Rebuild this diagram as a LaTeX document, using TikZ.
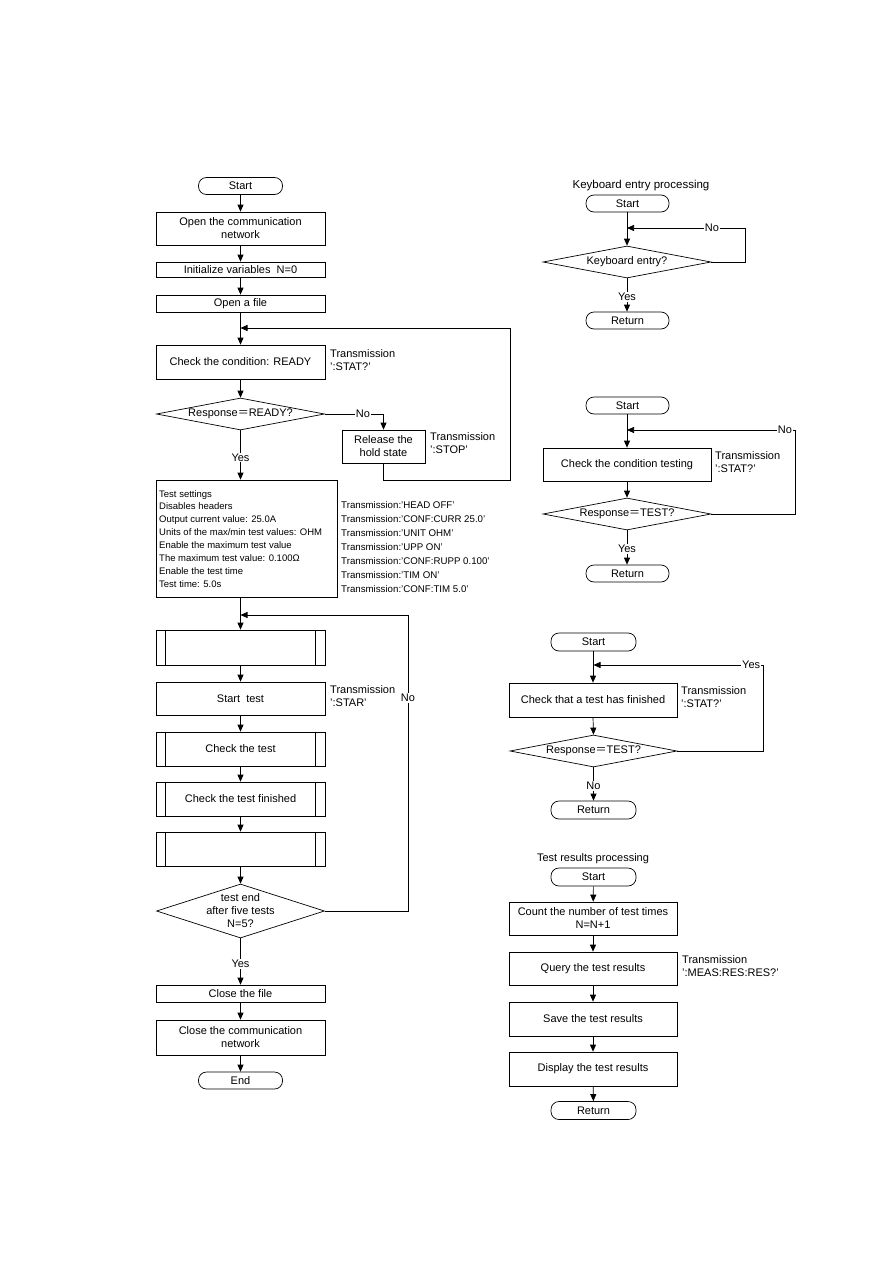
\documentclass[tikz,border=0pt]{standalone}
\usepackage{fontspec}
\setmainfont{Liberation Sans}
\newfontfamily\cjk{Noto Sans CJK JP}
\usetikzlibrary{arrows.meta,shapes.geometric}
\newcommand\fmain{\fontsize{11}{13}\selectfont}
\newcommand\fsmall{\fontsize{9.5}{12.9}\selectfont}
\newcommand\ftx{\fontsize{9.7}{14}\selectfont}
\newcommand\feq{{\cjk ＝}}
\tikzset{
 base/.style={draw, line width=0.7pt, font=\fmain, inner sep=1pt, align=center},
 proc/.style={base, minimum width=169, minimum height=34},
 term/.style={base, rounded corners=8pt, minimum width=84, minimum height=17},
 dia/.style={draw, line width=0.7pt, shape=diamond, inner sep=0pt, minimum width=168, minimum height=32},
 arr/.style={-{Triangle[length=7pt,width=6pt]}, line width=0.7pt},
 ln/.style={line width=0.7pt},
 note/.style={font=\fmain, align=left, anchor=north west, inner sep=0pt},
 lab/.style={font=\fmain, fill=white, inner sep=1pt},
}
\begin{document}
\begin{tikzpicture}[x=1pt,y=-1pt]
\useasboundingbox (0,0) rectangle (893,1263);
% ---------------- left column ----------------
\node[term] (start) at (240.5,186) {Start};
\node[proc, minimum height=33] (open) at (240.5,228.5) {Open the communication\\network};
\node[proc, minimum height=15] (init) at (240.5,269.5) {Initialize variables\ \ N=0};
\node[proc, minimum height=17] (file) at (240.5,303.5) {Open a file};
\node[proc] (chk) at (240.5,362) {Check the condition: READY};
\node[note] (chkn) at (330,349) {Transmission\\':STAT?'};
\node[dia] (d1) at (240.5,414) {};
\node[font=\fmain] (d1t) at (d1) {Response\feq READY?};
\node[proc, minimum width=83, minimum height=33] (rel) at (383.5,446.5) {Release the\\hold state};
\node[note] (reln) at (430,432) {Transmission\\':STOP'};
\node[draw, line width=0.7pt, minimum width=181, minimum height=117, inner sep=0pt] (set) at (246.5,538.5) {};
\node[font=\fsmall, align=left, anchor=north west, inner sep=0pt] (sett) at (159,490) {Test settings\\Disables headers\\Output current value: 25.0A\\Units of the max/min test values: OHM\\Enable the maximum test value\\The maximum test value: 0.100Ω\\Enable the test time\\Test time: 5.0s};
\node[font=\ftx, align=left, anchor=north west, inner sep=0pt] (setn) at (341,501) {Transmission:'HEAD OFF'\\Transmission:'CONF:CURR 25.0'\\Transmission:'UNIT OHM'\\Transmission:'UPP ON'\\Transmission:'CONF:RUPP 0.100'\\Transmission:'TIM ON'\\Transmission:'CONF:TIM 5.0'};
\node[proc, minimum height=35] (p1) at (240.5,647.5) {};
\node[proc, minimum height=33] (stt) at (240.5,698.5) {Start\ \ test};
\node[note] (sttn) at (330,685) {Transmission\\':STAR'};
\node[proc] (p2) at (240.5,749) {Check the test};
\node[proc] (p3) at (240.5,799) {Check the test finished};
\node[proc] (p4) at (240.5,849) {};
\foreach \p in {p1,p2,p3,p4}{
 \draw[ln] ([xshift=10pt]\p.north west) -- ([xshift=10pt]\p.south west);
 \draw[ln] ([xshift=-10pt]\p.north east) -- ([xshift=-10pt]\p.south east);
}
\node[dia, minimum height=54] (d2) at (240.5,911) {};
\node[font=\fmain, align=center] (d2t) at (d2) {test end\\after five tests\\N=5?};
\node[proc, minimum height=17] (cf) at (240.5,993.5) {Close the file};
\node[proc, minimum height=35] (cn) at (240.5,1037.5) {Close the communication\\network};
\node[term] (end) at (240.5,1080.5) {End};
\coordinate (j1) at (240.5,328);
\coordinate (j2) at (240.5,615);
\draw[arr] (start) -- (open);
\draw[arr] (open) -- (init);
\draw[arr] (init) -- (file);
\draw[arr] (file) -- (chk);
\draw[arr] (chk) -- (d1);
\draw[arr] (d1.south) -- node[lab, pos=0.55] (y1) {Yes} (set.north -| d1.south);
\draw[arr] (d1.east) -- node[lab, pos=0.65] (n1) {No} (d1.east -| rel.north) -- (rel.north);
\draw[arr] (rel.south) -- ++(0,17) -| (510,328) -- (j1);
\draw[arr] (set.south -| p1.north) -- (p1.north);
\draw[arr] (p1) -- (stt);
\draw[arr] (stt) -- (p2);
\draw[arr] (p2) -- (p3);
\draw[arr] (p3) -- (p4);
\draw[arr] (p4) -- (d2);
\draw[arr] (d2.east) -- (408,911) -- node[lab, pos=0.72] (n2) {No} (408,615) -- (j2);
\draw[arr] (d2.south) -- node[lab, pos=0.55] (y2) {Yes} (cf.north);
\draw[arr] (cf) -- (cn);
\draw[arr] (cn) -- (end);
% ---------------- right: keyboard entry ----------------
\node[font=\fontsize{11.5}{13}\selectfont] (kt) at (641,186) {Keyboard entry processing};
\node[term, minimum width=83] (ks) at (627.5,203.5) {Start};
\node[dia] (kd) at (627,262) {};
\node[font=\fmain] (kdt) at (kd) {Keyboard entry?};
\node[term, minimum width=83] (kr) at (627.5,320.5) {Return};
\coordinate (k1) at (627,228);
\draw[arr] (ks.south -| kd.north) -- (kd.north);
\draw[arr] (kd.east) -- (745,262) -- (745,228) -- node[lab, pos=0.28] (kn) {No} (k1);
\draw[arr] (kd.south) -- node[lab, pos=0.55] (ky) {Yes} (kr.north -| kd.south);
% ---------------- right: condition testing ----------------
\node[term, minimum width=83] (s2) at (627.5,405.5) {Start};
\node[proc, minimum width=168, minimum height=33] (c2) at (627,464.5) {Check the condition testing};
\node[note] (c2n) at (715,451) {Transmission\\':STAT?'};
\node[dia] (d3) at (627,514) {};
\node[font=\fmain] (d3t) at (d3) {Response\feq TEST?};
\node[term, minimum width=83] (r2) at (627.5,573.5) {Return};
\coordinate (k2) at (627,430);
\draw[arr] (s2.south -| c2.north) -- (c2.north);
\draw[arr] (c2) -- (d3);
\draw[arr] (d3.east) -- (795,514) -- (795,430) -- node[lab, pos=0.06] (n3) {No} (k2);
\draw[arr] (d3.south) -- node[lab, pos=0.55] (y3) {Yes} (r2.north -| d3.south);
% ---------------- right: test finished ----------------
\node[term, minimum width=85, minimum height=18] (s3) at (593.5,642) {Start};
\node[proc, minimum width=168] (c3) at (593,700) {Check that a test has finished};
\node[note] (c3n) at (681,686) {Transmission\\':STAT?'};
\node[dia, minimum width=167] (d4) at (593.5,751) {};
\node[font=\fmain] (d4t) at (d4) {Response\feq TEST?};
\node[term, minimum width=85, minimum height=18] (r3) at (593.5,810) {Return};
\coordinate (k3) at (593.5,665);
\draw[arr] (s3.south -| c3.north) -- (c3.north);
\draw[arr] (c3.south) -- (d4.north);
\draw[arr] (d4.east) -- (763,751) -- (763,665) -- node[lab, pos=0.07] (y4) {Yes} (k3);
\draw[arr] (d4.south) -- node[lab, pos=0.55] (n4) {No} (r3.north);
% ---------------- right: test results ----------------
\node[font=\fmain] (tt) at (593,859) {Test results processing};
\node[term, minimum width=85, minimum height=18] (s4) at (593.5,877) {Start};
\node[proc, minimum width=168, minimum height=33] (b1) at (593,918.5) {Count the number of test times\\N=N+1};
\node[proc, minimum width=168, minimum height=33] (b2) at (593,968.5) {Query the test results};
\node[note] (b2n) at (682,955) {Transmission\\':MEAS:RES:RES?'};
\node[proc, minimum width=168] (b3) at (593,1019) {Save the test results};
\node[proc, minimum width=168] (b4) at (593,1069) {Display the test results};
\node[term, minimum width=85, minimum height=18] (r4) at (593.5,1110.5) {Return};
\draw[arr] (s4) -- (b1);
\draw[arr] (b1) -- (b2);
\draw[arr] (b2) -- (b3);
\draw[arr] (b3) -- (b4);
\draw[arr] (b4) -- (r4);
\end{tikzpicture}
\end{document}
